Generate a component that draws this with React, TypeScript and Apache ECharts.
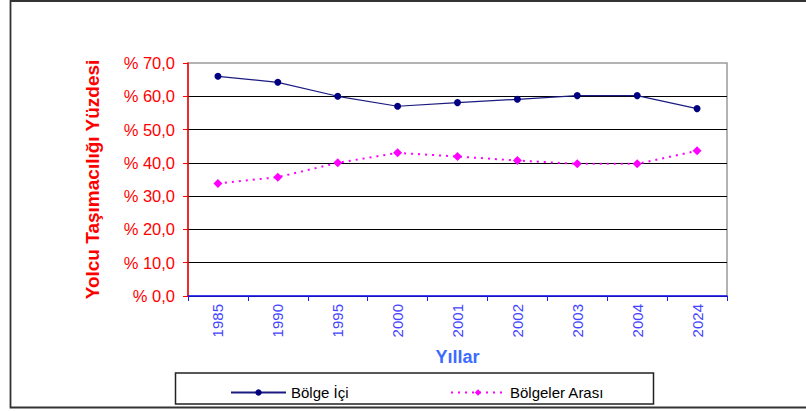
import React, { useEffect, useRef } from "react";
import * as echarts from "echarts";

const years = ["1985", "1990", "1995", "2000", "2001", "2002", "2003", "2004", "2024"];
const bolgeIci = [66.0, 64.2, 60.0, 57.0, 58.1, 59.1, 60.2, 60.2, 56.3];
const bolgelerArasi = [33.8, 35.7, 40.0, 43.0, 41.9, 40.7, 39.7, 39.7, 43.6];
const seriesNames = ["Bölge İçi", "Bölgeler Arası"];
const yAxisName = "Yolcu Taşımacılığı Yüzdesi";
const xAxisName = "Yıllar";

const FONT = "'Liberation Sans', Arial, sans-serif";

export default function App() {
  const ref = useRef<HTMLDivElement>(null);
  useEffect(() => {
    if (!ref.current) return;
    const chart = echarts.init(ref.current, null, { renderer: "svg" });
    chart.setOption({
      animation: false,
      backgroundColor: "#ffffff",
      textStyle: { fontFamily: FONT },
      grid: {
        left: 188,
        top: 63,
        width: 539,
        height: 233,
        show: true,
        borderColor: "#9a9a9a",
        borderWidth: 1.5,
        backgroundColor: "transparent",
      },
      xAxis: {
        type: "category",
        data: years,
        boundaryGap: true,
        name: xAxisName,
        nameLocation: "middle",
        nameGap: 52,
        nameTextStyle: { color: "#3d6bff", fontSize: 18, fontWeight: "bold", fontFamily: FONT },
        axisLine: { lineStyle: { color: "#1a1aff", width: 1.5 } },
        axisTick: { show: true, length: 5, lineStyle: { color: "#1a1aff" } },
        axisLabel: { rotate: 90, color: "#4444ff", fontSize: 15, margin: 8, fontFamily: FONT },
        splitLine: { show: false },
      },
      yAxis: {
        type: "value",
        min: 0,
        max: 70,
        interval: 10,
        name: yAxisName,
        nameLocation: "middle",
        nameRotate: 90,
        nameGap: 86,
        nameTextStyle: { color: "#ff0000", fontSize: 19, fontWeight: "bold", fontFamily: FONT },
        axisLine: { show: true, lineStyle: { color: "#ff0000", width: 1.5 } },
        axisTick: { show: true, length: 5, lineStyle: { color: "#ff0000" } },
        axisLabel: {
          color: "#ff0000",
          fontSize: 16.5,
          margin: 13,
          fontFamily: FONT,
          formatter: (v: number) => "% " + v.toFixed(1).replace(".", ","),
        },
        splitLine: { show: true, showMaxLine: false, lineStyle: { color: "#000000", width: 1.2 } },
      },
      legend: [
        {
          data: [seriesNames[0]],
          left: 225,
          top: 380,
          itemWidth: 55,
          itemHeight: 8,
          itemGap: 0,
          textStyle: { color: "#000000", fontSize: 15, fontFamily: FONT },
        },
        {
          data: [seriesNames[1]],
          left: 445,
          top: 380,
          itemWidth: 54,
          itemHeight: 8,
          itemGap: 0,
          textStyle: { color: "#000000", fontSize: 15, fontFamily: FONT },
        },
      ],
      graphic: [
        {
          type: "rect",
          shape: { x: 10.5, y: 1, width: 820, height: 406.5 },
          style: { fill: "none", stroke: "#333333", lineWidth: 1.8 },
          silent: true,
          z: -1,
        },
        {
          type: "rect",
          shape: { x: 175.5, y: 373, width: 478, height: 31 },
          style: { fill: "none", stroke: "#222222", lineWidth: 1.5 },
          silent: true,
          z: -1,
        },
      ],
      series: [
        {
          name: seriesNames[0],
          type: "line",
          data: bolgeIci,
          symbol: "circle",
          symbolSize: 7,
          itemStyle: { color: "#000080" },
          lineStyle: { color: "#1a1a80", width: 1.2 },
          z: 3,
        },
        {
          name: seriesNames[1],
          type: "line",
          data: bolgelerArasi,
          symbol: "diamond",
          symbolSize: 9,
          itemStyle: { color: "#ff00ff" },
          lineStyle: { color: "#ff00ff", width: 2, type: [2, 5] },
          z: 3,
        },
      ],
    });
    return () => chart.dispose();
  }, []);
  return (
    <div
      ref={ref}
      style={{ position: "fixed", left: 0, top: 0, width: 806, height: 411, background: "#fff" }}
    />
  );
}
